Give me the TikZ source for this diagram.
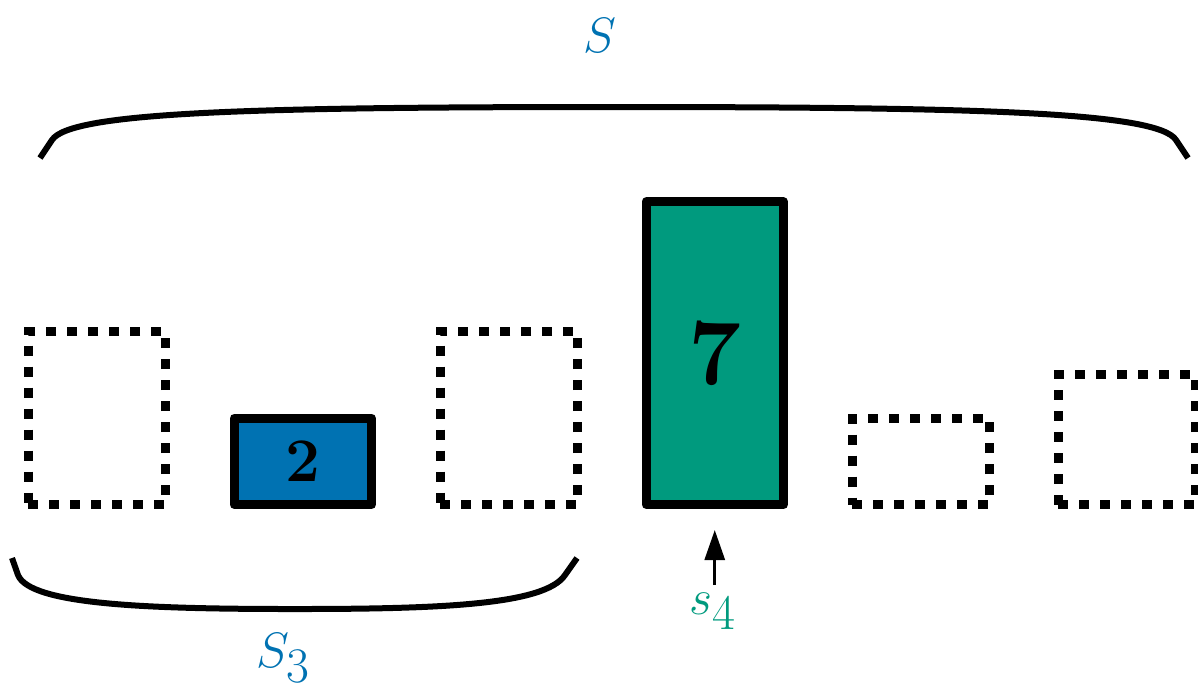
\documentclass[tikz,border=0pt]{standalone}
\usetikzlibrary{arrows.meta}
\definecolor{sblue}{HTML}{0072B2}
\definecolor{sgreen}{HTML}{009A7E}
\begin{document}
\begin{tikzpicture}[x=0.5pt,y=-0.5pt,
  bar/.style={draw=black, line width=4.5pt, line join=round,
    minimum width=68.75pt, anchor=south, inner sep=0pt, outer sep=0pt},
  gap/.style={bar, dash pattern=on 5pt off 5.5pt, line join=miter},
  held/.style={bar, fill=#1},
  brc/.style={line width=3pt, line join=round},
  lbl/.style={inner sep=0pt, font=\fontsize{36}{40}\selectfont}]
\useasboundingbox (0,0) rectangle (1198,693);

% bars: bottom line at y=504.5, pitch 206, unit height 21.625pt
\node[gap, minimum height=86.5pt] (b1) at (96.75,504.5) {};
\node[held=sblue, minimum height=43.25pt,
  font=\fontsize{31}{31}\selectfont\bfseries] (b2) at (302.75,504.5) {2};
\node[gap, minimum height=86.5pt] (b3) at (508.75,504.5) {};
\node[held=sgreen, minimum height=151.375pt,
  font=\fontsize{47}{47}\selectfont\bfseries] (b4) at (714.75,504.5) {7};
\node[gap, minimum height=43.25pt] (b5) at (920.75,504.5) {};
\node[gap, minimum height=64.875pt] (b6) at (1126.75,504.5) {};

% upper bracket over the whole sequence
\draw[brc] (40,158) -- (52,140) .. controls (70,112) and (250,107) .. (614,107)
  .. controls (978,107) and (1158,112) .. (1176,140) -- (1188,158);
\node[lbl, text=sblue] (S) at (600,35) {$S$};

% lower bracket under the first three bars
\draw[brc] (12,558) -- (18,575) .. controls (30,605) and (150,609) .. (295,609)
  .. controls (440,609) and (545,605) .. (565,575) -- (577,558);
\node[lbl, text=sblue] (S3) at (283,658) {$S_3$};

% pointer to the fourth bar
\node[lbl, text=sgreen] (s4) at (713,611) {$s_4$};
\coordinate (tail) at (714.75,585);
\draw[line width=1.5pt, -{Triangle[length=15pt,width=10pt]}, shorten >=12.75pt]
  (tail) -- (b4.south);
\end{tikzpicture}
\end{document}
